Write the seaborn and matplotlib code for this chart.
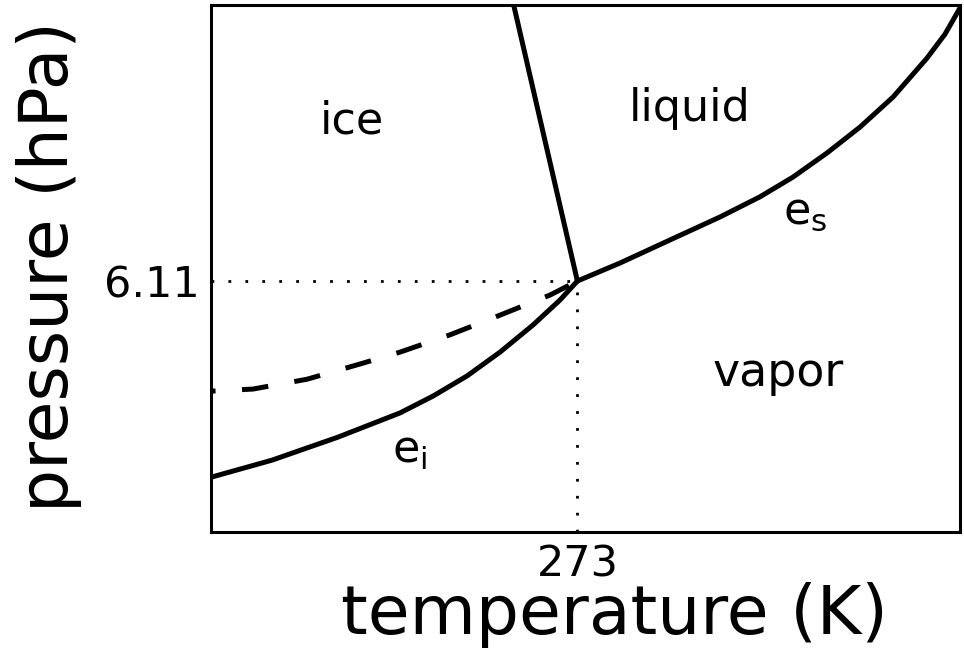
import matplotlib
matplotlib.use('Agg')
import matplotlib.pyplot as plt
import seaborn as sns

# saturation vapour pressure over liquid water (e_s)
es_temp = [273.0, 275.10, 277.55, 280.01, 281.97, 283.59, 285.27,
           286.89, 288.51, 290.18, 291.06, 291.8]
es_pres = [6.11, 6.55, 7.11, 7.67, 8.16, 8.64, 9.23,
           9.86, 10.59, 11.54, 12.12, 12.76]

# saturation vapour pressure over ice (e_i)
ei_temp = [255.05, 258.00, 261.24, 264.29, 265.91, 267.58, 269.20,
           270.82, 272.15, 273.0]
ei_pres = [1.34, 1.75, 2.31, 2.90, 3.31, 3.80, 4.38,
           5.04, 5.65, 6.11]

# supercooled water (dashed)
sc_temp = [255.05, 257.06, 259.72, 262.32, 264.29, 266.74, 269.20,
           271.66, 273.0]
sc_pres = [3.43, 3.48, 3.72, 4.09, 4.38, 4.80, 5.28,
           5.77, 6.11]

# melting line
melt_temp = [269.87, 273.0]
melt_pres = [12.83, 6.11]

triple_t = 273
triple_p = 6.11

sns.set_theme(style='white')
plt.rcParams['font.family'] = ['DejaVu Sans']
plt.rcParams['text.color'] = 'black'
plt.rcParams['axes.labelcolor'] = 'black'
plt.rcParams['xtick.color'] = 'black'
plt.rcParams['ytick.color'] = 'black'

fig = plt.figure(figsize=(9.64, 6.59), dpi=100)
ax = fig.add_axes([0.2189, 0.1927, 0.9959 - 0.2189, 0.9924 - 0.1927])

lw = 3.6
sns.lineplot(x=es_temp, y=es_pres, color='black', lw=lw, ax=ax)
sns.lineplot(x=ei_temp, y=ei_pres, color='black', lw=lw, ax=ax)
sns.lineplot(x=sc_temp, y=sc_pres, color='black', lw=lw, ax=ax,
             linestyle=(4.6, (5.3, 5.3)))
sns.lineplot(x=melt_temp, y=melt_pres, color='black', lw=lw, ax=ax, sort=False)
for ln in ax.lines:
    ln.set_solid_joinstyle('round')

# dotted guides to the triple point
ax.plot([255, triple_t], [triple_p, triple_p], color='black', lw=2,
        linestyle=(0, (1, 5.1)))
ax.plot([triple_t, triple_t], [0, triple_p], color='black', lw=2,
        linestyle=(0, (1, 5.1)))

ax.set_xlim(255, 291.8)
ax.set_ylim(0, 12.83)
ax.set_xticks([triple_t])
ax.set_xticklabels(['273'], fontsize=31)
ax.set_yticks([triple_p])
ax.set_yticklabels(['6.11'], fontsize=31)
ax.tick_params(length=0, pad=8)

for s in ax.spines.values():
    s.set_color('black')
    s.set_linewidth(2.2)

ax.set_xlabel('temperature (K)', fontsize=49)
ax.set_ylabel('pressure (hPa)', fontsize=49)
ax.xaxis.set_label_coords(0.539, -0.095)
ax.yaxis.set_label_coords(-0.172, 0.503)

lab = dict(fontsize=32, ha='center', va='center', color='black')
ax.text(261.9, 10.0, 'ice', **lab)
ax.text(278.5, 10.3, 'liquid', **lab)
ax.text(282.85, 3.85, 'vapor', fontsize=33, ha='center', va='center')
ax.text(284.2, 7.8, r'$\mathregular{e_s}$', **lab)
ax.text(264.75, 1.98, r'$\mathregular{e_i}$', **lab)

fig.savefig('out.png', dpi=100, facecolor='white')
